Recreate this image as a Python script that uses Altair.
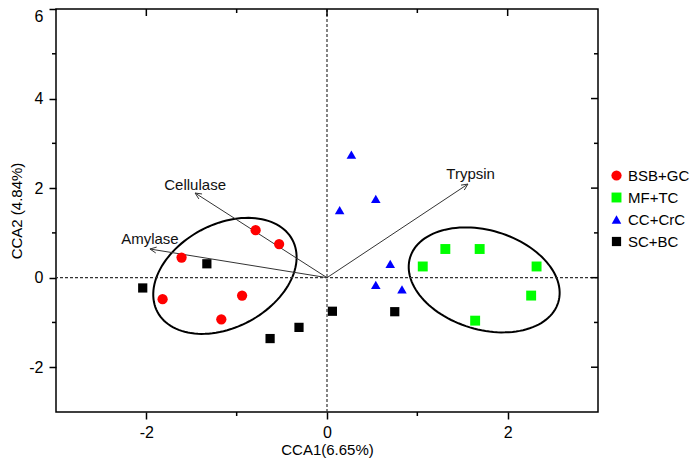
import altair as alt
import pandas as pd
import numpy as np

# ---------------- data ----------------
groups = ["BSB+GC", "MF+TC", "CC+CrC", "SC+BC"]
colors = ["#FF0000", "#00FF00", "#0000FF", "#000000"]
shapes = ["circle", "square", "triangle-up", "square"]
sizes = [105, 85, 185, 80]

bsb_x = [-0.79, -0.53, -1.61, -1.82, -0.94, -1.17]
bsb_y = [1.06, 0.75, 0.45, -0.48, -0.40, -0.93]
mf_x = [1.06, 1.31, 1.69, 2.32, 2.26, 1.64]
mf_y = [0.25, 0.64, 0.64, 0.25, -0.40, -0.96]
cc_x = [0.27, 0.54, 0.14, 0.70, 0.54, 0.83]
cc_y = [2.75, 1.76, 1.51, 0.31, -0.16, -0.26]
sc_x = [-1.33, -2.04, 0.06, -0.31, -0.63, 0.75]
sc_y = [0.31, -0.23, -0.75, -1.11, -1.36, -0.76]

env_names = ["Cellulase", "Amylase", "Trypsin"]
env_x = [-1.46, -1.96, 1.56]
env_y = [1.89, 0.64, 2.09]
lab_x = [-1.46, -1.96, 1.59]
lab_y = [2.07, 0.86, 2.31]

# confidence ellipses: centre (data), semi-axes (px), angle (deg)
ell_cx = [-1.13, 1.74]
ell_cy = [0.04, -0.05]
ell_a = [76.5, 77.4]
ell_b = [51.5, 49.6]
ell_ang = [28.2, -16.8]

x_major = [-2, 0, 2]
x_minor = [-1, 1]
y_major = [-2, 0, 2, 4]
y_minor = [-1, 1, 3, 5]

# ---------------- layout ----------------
W, H = 542, 403
XMIN, XMAX, YMIN, YMAX = -3, 3, -3, 6
SX = W / (XMAX - XMIN)
SY = H / (YMAX - YMIN)
FONT = "Liberation Sans"

xs = alt.Scale(domain=[XMIN, XMAX], nice=False, zero=False)
ys = alt.Scale(domain=[YMIN, YMAX], nice=False, zero=False)

# points
rows = []
for g, xx, yy in zip(groups, [bsb_x, mf_x, cc_x, sc_x], [bsb_y, mf_y, cc_y, sc_y]):
    for a, b in zip(xx, yy):
        rows.append({"x": a, "y": b, "group": g})
pts = pd.DataFrame(rows)

# ellipses
erows = []
t = np.linspace(0, 2 * np.pi, 121)
for i in range(len(ell_cx)):
    th = np.deg2rad(ell_ang[i])
    px = ell_a[i] * np.cos(t) * np.cos(th) - ell_b[i] * np.sin(t) * np.sin(th)
    py = ell_a[i] * np.cos(t) * np.sin(th) + ell_b[i] * np.sin(t) * np.cos(th)
    for k in range(len(t)):
        erows.append({"x": ell_cx[i] + px[k] / SX, "y": ell_cy[i] + py[k] / SY, "id": i, "o": k})
ell = pd.DataFrame(erows)

# arrows (shaft + open head)
arows = []
for i, (ex, ey) in enumerate(zip(env_x, env_y)):
    arows.append({"x": 0, "y": 0, "id": f"s{i}", "o": 0})
    arows.append({"x": ex, "y": ey, "id": f"s{i}", "o": 1})
    dx, dy = ex * SX, ey * SY
    L = np.hypot(dx, dy)
    ux, uy = dx / L, dy / L
    hl, ang = 7.0, np.deg2rad(25)
    for j, s in enumerate([1, -1]):
        c, sn = np.cos(s * ang), np.sin(s * ang)
        bx = -(ux * c - uy * sn) * hl
        by = -(ux * sn + uy * c) * hl
        arows.append({"x": ex, "y": ey, "id": f"h{i}{j}", "o": 0})
        arows.append({"x": ex + bx / SX, "y": ey + by / SY, "id": f"h{i}{j}", "o": 1})
arr = pd.DataFrame(arows)

labs = pd.DataFrame({"x": lab_x, "y": lab_y, "t": env_names})

# ---------------- layers ----------------
ell_layer = alt.Chart(ell).mark_line(color="black", strokeWidth=2).encode(
    x=alt.X("x:Q", scale=xs), y=alt.Y("y:Q", scale=ys), detail="id:N", order="o:Q")

zero_v = alt.Chart(pd.DataFrame({"x": [0]})).mark_rule(
    color="#333333", strokeDash=[3, 2], strokeWidth=1.2).encode(x=alt.X("x:Q", scale=xs))
zero_h = alt.Chart(pd.DataFrame({"y": [0]})).mark_rule(
    color="#333333", strokeDash=[3, 2], strokeWidth=1.2).encode(y=alt.Y("y:Q", scale=ys))

arr_layer = alt.Chart(arr).mark_line(color="#333333", strokeWidth=1).encode(
    x=alt.X("x:Q", scale=xs), y=alt.Y("y:Q", scale=ys), detail="id:N", order="o:Q")

txt = alt.Chart(labs).mark_text(font=FONT, fontSize=15, color="#111111").encode(
    x=alt.X("x:Q", scale=xs), y=alt.Y("y:Q", scale=ys), text="t:N")

pt_layer = alt.Chart(pts).mark_point(filled=True, opacity=1, strokeWidth=0).encode(
    x=alt.X("x:Q", scale=xs,
            axis=alt.Axis(values=x_major, title="CCA1(6.65%)", grid=False, domain=False,
                          tickSize=7, tickWidth=1.5, tickColor="black", labelPadding=5,
                          labelExpr="datum.value",
                          labelFontSize=16, labelFont=FONT, labelColor="black",
                          titleFont=FONT, titleFontSize=15, titleFontWeight="normal",
                          titleColor="black", titlePadding=2)),
    y=alt.Y("y:Q", scale=ys,
            axis=alt.Axis(values=y_major + [6], title="CCA2 (4.84%)", grid=False, domain=False,
                          tickSize=7, tickWidth=1.5, tickColor="black", labelPadding=6,
                          labelExpr="datum.value", labelFlush=True, labelFlushOffset=1,
                          labelFontSize=16, labelFont=FONT, labelColor="black",
                          titleFont=FONT, titleFontSize=15, titleFontWeight="normal",
                          titleColor="black", titlePadding=4)),
    color=alt.Color("group:N", scale=alt.Scale(domain=groups, range=colors),
                    legend=alt.Legend(title=None)),
    shape=alt.Shape("group:N", scale=alt.Scale(domain=groups, range=shapes),
                    legend=alt.Legend(title=None)),
    size=alt.Size("group:N", scale=alt.Scale(domain=groups, range=sizes), legend=None),
)

# minor/outer ticks and inner ticks on top/right
def vrule(vals, y0, y1):
    return alt.Chart(pd.DataFrame({"v": vals})).mark_rule(color="black", strokeWidth=1.5).encode(
        x=alt.X("v:Q", scale=xs), y=alt.value(y0), y2=alt.value(y1))

def hrule(vals, x0, x1):
    return alt.Chart(pd.DataFrame({"v": vals})).mark_rule(color="black", strokeWidth=1.5).encode(
        y=alt.Y("v:Q", scale=ys), x=alt.value(x0), x2=alt.value(x1))

ticks = [
    vrule(x_minor, H, H + 4),
    vrule(x_major, 0, 7),
    vrule(x_minor, 0, 4),
    hrule(y_minor, -4, 0),
    hrule(y_major, W, W - 7),
    hrule(y_minor, W, W - 4),
]

chart = alt.layer(ell_layer, zero_v, zero_h, arr_layer, txt, *ticks, pt_layer).properties(
    width=W, height=H,
    autosize=alt.AutoSizeParams(type="none"),
    padding={"left": 48, "top": 1, "right": 94, "bottom": 48},
).configure_view(stroke="black", strokeWidth=1.5).configure_legend(
    orient="none", legendX=553, legendY=159, padding=0,
    labelFont=FONT, labelFontSize=15, labelColor="black",
    symbolSize=100, symbolStrokeWidth=0, labelOffset=4, rowPadding=6,
)

chart.save("out.html", embed_options={"renderer": "svg", "actions": False})
